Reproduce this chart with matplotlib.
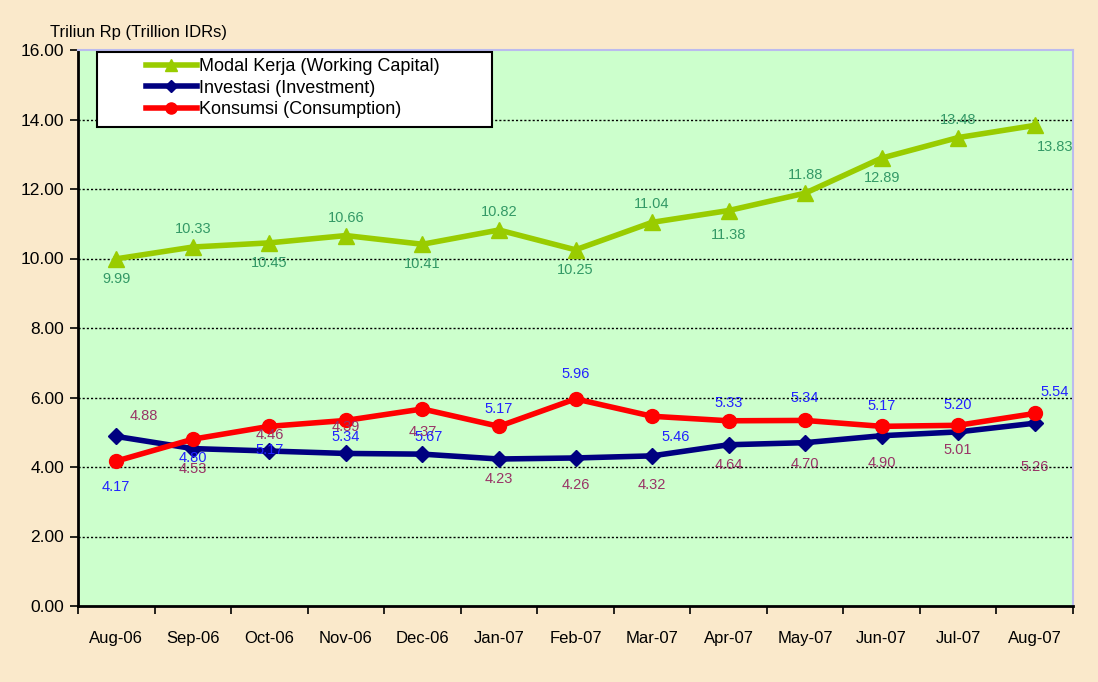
import matplotlib.pyplot as plt
from matplotlib.patches import Rectangle
from matplotlib.ticker import FixedLocator, NullFormatter, FixedFormatter

plt.rcParams['font.family'] = ['Liberation Sans', 'DejaVu Sans']

# data
months = ['Aug-06', 'Sep-06', 'Oct-06', 'Nov-06', 'Dec-06', 'Jan-07', 'Feb-07',
          'Mar-07', 'Apr-07', 'May-07', 'Jun-07', 'Jul-07', 'Aug-07']
modal_kerja = [9.99, 10.33, 10.45, 10.66, 10.41, 10.82, 10.25, 11.04, 11.38, 11.88, 12.89, 13.48, 13.83]
investasi = [4.88, 4.53, 4.46, 4.39, 4.37, 4.23, 4.26, 4.32, 4.64, 4.70, 4.90, 5.01, 5.26]
konsumsi = [4.17, 4.80, 5.17, 5.34, 5.67, 5.17, 5.96, 5.46, 5.33, 5.34, 5.17, 5.20, 5.54]

# label offsets in pixels (dx, dy), placement only
off_mk = [(0, -20), (0, 18), (0, -20), (0, 18), (0, -20), (0, 18), (0, -20),
          (0, 18), (0, -24), (0, 18), (0, -20), (0, 18), (20, -22)]
off_inv = [(28, 20), (0, -20), (0, 16), (0, 26), (0, 22), (0, -20), (0, -27),
           (0, -29), (0, -20), (0, -21), (0, -27), (0, -18), (0, -44)]
off_kon = [(0, -26), (0, -19), (0, -24), (0, -17), (6, -28), (0, 17), (0, 25),
           (24, -21), (0, 18), (0, 22), (0, 20), (0, 20), (20, 21)]

x = list(range(len(months)))

fig = plt.figure(figsize=(10.98, 6.82), dpi=100)
fig.patch.set_facecolor('#FAE9CB')
ax = fig.add_axes([78 / 1098, 1 - 606 / 682, (1073 - 78) / 1098, (606 - 50) / 682])
ax.set_facecolor('#CCFFCC')

ax.plot(x, modal_kerja, color='#99CC00', lw=4, marker='^', ms=11, label='Modal Kerja (Working Capital)', zorder=3)
ax.plot(x, investasi, color='#000080', lw=4, marker='D', ms=8, label='Investasi (Investment)', zorder=3)
ax.plot(x, konsumsi, color='#FF0000', lw=4, marker='o', ms=10, label='Konsumsi (Consumption)', zorder=4)

def put_labels(vals, offs, color):
    for i, v in enumerate(vals):
        ax.annotate(f'{v:.2f}', (i, v), xytext=offs[i], textcoords='offset pixels',
                    ha='center', va='center', fontsize=10.5, color=color, zorder=5)

put_labels(modal_kerja, off_mk, '#339966')
put_labels(investasi, off_inv, '#993366')
put_labels(konsumsi, off_kon, '#2222FF')

ax.set_xlim(-0.5, len(months) - 0.5)
ax.set_ylim(0, 16)
ax.set_yticks([0, 2, 4, 6, 8, 10, 12, 14, 16])
ax.set_yticklabels([f'{v:.2f}' for v in [0, 2, 4, 6, 8, 10, 12, 14, 16]], fontsize=12.5)
for yv in [2, 4, 6, 8, 10, 12, 14]:
    ax.axhline(yv, color='black', lw=1, ls=(0, (1.5, 1.5)), zorder=1)

ax.xaxis.set_major_locator(FixedLocator([i - 0.5 for i in range(len(months) + 1)]))
ax.xaxis.set_major_formatter(NullFormatter())
ax.xaxis.set_minor_locator(FixedLocator(x))
ax.xaxis.set_minor_formatter(FixedFormatter(months))
ax.tick_params(axis='x', which='minor', length=0, pad=18, labelsize=12)
ax.tick_params(axis='x', which='major', length=6, width=1.2, direction='out')
ax.tick_params(axis='y', length=6, width=1.2, direction='out', pad=4)

for s in ['left', 'bottom']:
    ax.spines[s].set_color('black')
    ax.spines[s].set_linewidth(2)
for s in ['top', 'right']:
    ax.spines[s].set_color('#BBBBEE')
    ax.spines[s].set_linewidth(1.5)

# legend box (Excel style, wider than its entries)
fig.patches.append(Rectangle((97 / 1098, 1 - 127 / 682), (492 - 97) / 1098, (127 - 52) / 682,
                             transform=fig.transFigure, facecolor='white', edgecolor='black',
                             lw=1.5, zorder=10))
leg = fig.legend(*ax.get_legend_handles_labels(), loc='upper left',
                 bbox_to_anchor=(146 / 1098, 1 - 58 / 682), fontsize=13, frameon=False,
                 borderpad=0.0, handlelength=2.8, handletextpad=0.15, labelspacing=0.25,
                 borderaxespad=0.0, markerscale=0.8)
leg.set_zorder(11)

fig.text(50 / 1098, 1 - 32 / 682, 'Triliun Rp (Trillion IDRs)', fontsize=12, va='center', ha='left')

fig.savefig('out.png', dpi=100, facecolor=fig.get_facecolor())
